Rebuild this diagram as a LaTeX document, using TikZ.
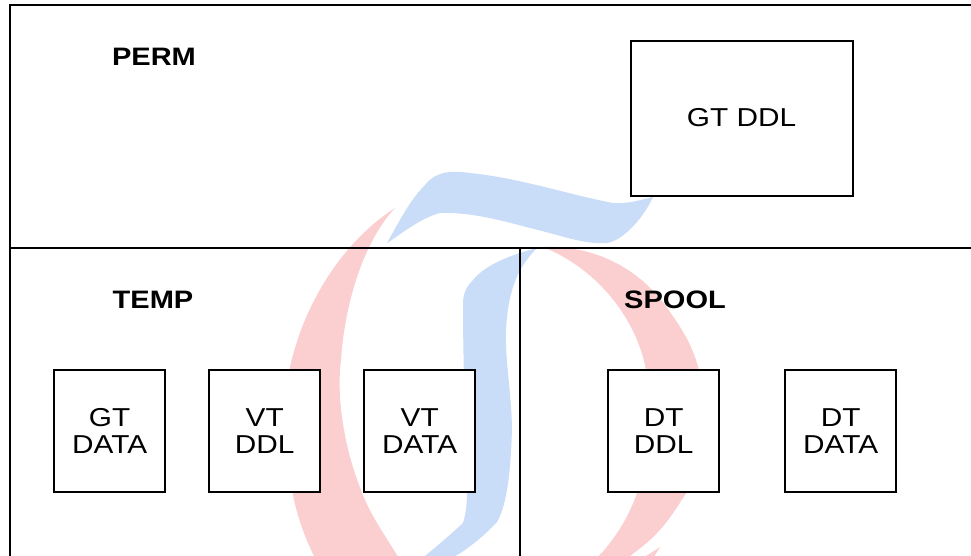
\documentclass[tikz,border=0pt]{standalone}
\usepackage{fontspec}
\setmainfont[FakeStretch=1.15]{Liberation Sans}
\definecolor{wmred}{HTML}{FBCFD0}
\definecolor{wmblue}{HTML}{C9DDF9}
\tikzset{
  pane/.style={draw=black,line width=1.5bp},
  box/.style={draw=black,line width=1.5bp,fill=white,align=center,inner sep=0pt,outer sep=0pt,font=\fontsize{19.5}{20.25}\selectfont,anchor=north west},
  smallbox/.style={box,minimum width=83.5bp,minimum height=91.3bp},
  head/.style={font=\fontsize{19}{20}\selectfont\bfseries,inner sep=0pt}
}
\begin{document}
\begin{tikzpicture}[x=0.75bp,y=-0.75bp]
\useasboundingbox (0,0) rectangle (971,556);
\fill[white] (0,0) rectangle (971,556);
\begin{scope}
\clip (0,0) rectangle (971,556);
% red watermark, left arc
\fill[wmred] (395,208) .. controls (345,240) and (305,300) .. (290,367)
  .. controls (285,420) and (287,465) .. (293,495)
  .. controls (298,520) and (306,540) .. (316,560)
  -- (400,560) .. controls (385,535) and (370,515) .. (361,490)
  .. controls (345,450) and (336,400) .. (341,360)
  .. controls (345,300) and (365,240) .. (395,208) -- cycle;
% red watermark, right arc
\fill[wmred] (543,247) .. controls (590,245) and (640,265) .. (672,315)
  .. controls (690,340) and (698,360) .. (702,385)
  .. controls (706,430) and (700,465) .. (687,492)
  .. controls (675,510) and (668,522) .. (657,533)
  .. controls (648,543) and (635,552) .. (625,560)
  -- (595,560) .. controls (615,540) and (630,515) .. (638,490)
  .. controls (650,450) and (652,400) .. (645,365)
  .. controls (635,320) and (600,270) .. (543,247) -- cycle;
\fill[wmred] (660,547) -- (652,560) -- (640,560) -- cycle;
% blue watermark, top stroke
\fill[wmblue] (387,243) .. controls (400,220) and (410,200) .. (425,185)
  .. controls (435,172) and (450,170) .. (470,173)
  .. controls (520,178) and (570,195) .. (613,203)
  .. controls (628,204) and (640,200) .. (653,197)
  .. controls (645,215) and (625,240) .. (607,243)
  .. controls (585,245) and (560,235) .. (530,228)
  .. controls (500,220) and (470,212) .. (440,213)
  .. controls (420,218) and (400,235) .. (387,243) -- cycle;
% blue watermark, vertical stroke
\fill[wmblue] (537,248) .. controls (510,255) and (485,265) .. (473,280)
  .. controls (465,288) and (463,295) .. (463,305)
  .. controls (463,350) and (465,430) .. (467,480)
  .. controls (467,500) and (467,510) .. (463,523)
  .. controls (450,535) and (435,548) .. (420,560)
  -- (448,560) .. controls (465,552) and (485,535) .. (497,522)
  .. controls (507,505) and (511,470) .. (512,427)
  .. controls (511,390) and (505,360) .. (506,330)
  .. controls (508,295) and (515,270) .. (537,248) -- cycle;
\end{scope}
% panes
\coordinate (tl) at (10,5);
\coordinate (tr) at (971,5);
\coordinate (ml) at (10,248);
\coordinate (mr) at (971,248);
\coordinate (bl) at (10,556);
\coordinate (vt) at (520,248);
\coordinate (vb) at (520,556);
\coordinate (vm) at (520,508);
\coordinate (hm) at (823,248);
\draw[pane] (bl) -- (tl) -- (tr);
\draw[pane] (ml) -- (mr);
\draw[pane] (vt) -- (vb);
\draw[line width=2.2bp] (vm) -- (vb);
\draw[line width=2bp] (hm) -- (mr);
% headings
\node[head] (perm) at (154,57) {PERM};
\node[head] (temp) at (153,300) {TEMP};
\node[head] (spool) at (675,300) {SPOOL};
% boxes
\node[box,minimum width=166.5bp,minimum height=116.25bp] (gtddl) at (630.5,41) {\raisebox{2bp}{GT DDL}};
\node[smallbox] (gtdata) at (54,370) {GT\\DATA};
\node[smallbox] (vtddl) at (209,370) {VT\\DDL};
\node[smallbox] (vtdata) at (364,370) {VT\\DATA};
\node[smallbox] (dtddl) at (608,370) {DT\\DDL};
\node[smallbox] (dtdata) at (785,370) {DT\\DATA};
\end{tikzpicture}
\end{document}
